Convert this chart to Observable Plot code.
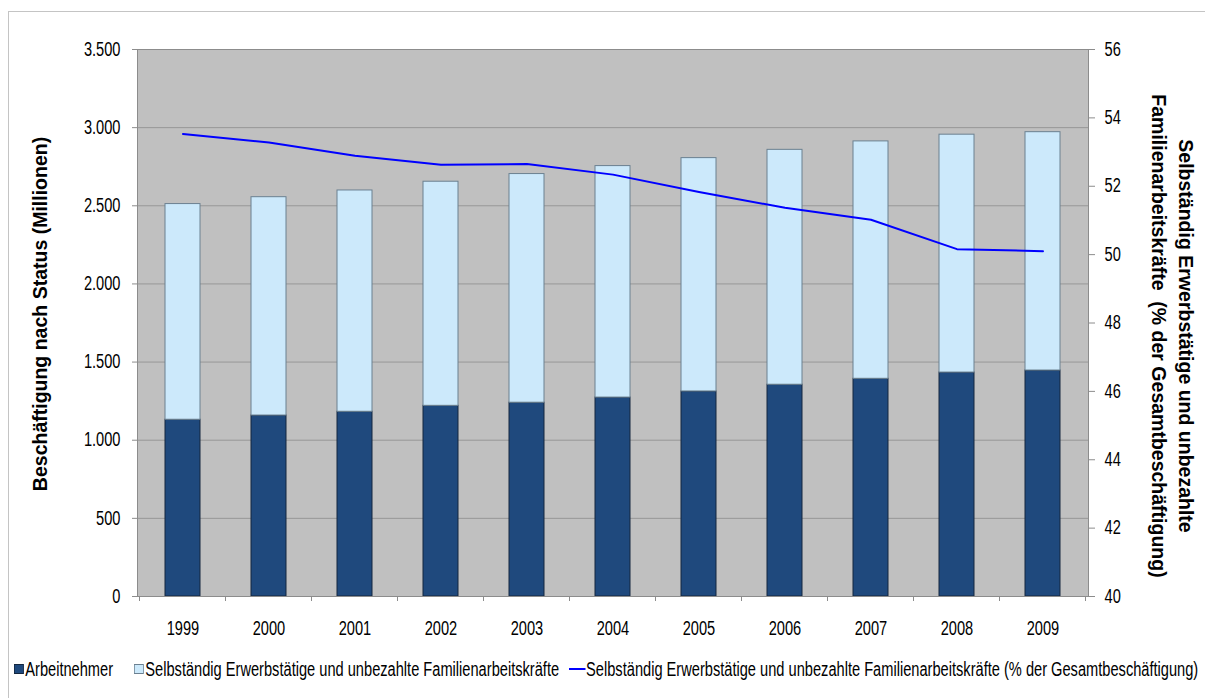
<!DOCTYPE html>
<html><head><meta charset="utf-8">
<script src="https://cdn.jsdelivr.net/npm/d3@7"></script>
<script src="https://cdn.jsdelivr.net/npm/@observablehq/plot@0.6"></script>
<style>
body{margin:0;background:#fff;font-family:"Liberation Sans",Arial,sans-serif;}
#wrap{position:relative;width:1205px;height:698px;overflow:hidden;}
#border{position:absolute;left:8px;top:11px;width:1400px;height:900px;border-left:1px solid #c4c4c4;border-top:1px solid #c4c4c4;}
#chart{position:absolute;left:0;top:0;}
#legend{position:absolute;left:14px;top:657px;white-space:nowrap;font-size:19.5px;line-height:24px;color:#000;transform:scaleX(0.75);transform-origin:0 0;display:flex;align-items:center;}
#legend .sw{display:inline-block;width:13px;height:10px;margin-right:2px;box-sizing:border-box;}
#legend .ln{display:inline-block;width:22px;height:2px;background:#0000ff;margin-right:1px;}
#legend .item{display:flex;align-items:center;}
</style></head><body>
<div id="wrap"><div id="border"></div><div id="chart"></div><div id="legend"></div></div>
<script>
// ---- data ----
const years = ["1999","2000","2001","2002","2003","2004","2005","2006","2007","2008","2009"];
const arbeitnehmer = [1131,1158,1182,1220,1240,1273,1312,1355,1393,1433,1446];
const selbstaendig = [1380,1397,1416,1434,1463,1481,1493,1503,1519,1522,1525];
const anteilProzent = [53.53,53.28,52.89,52.63,52.65,52.34,51.83,51.37,51.02,50.16,50.10];
const leftTicks = [0,500,1000,1500,2000,2500,3000,3500];
const rightTicks = [40,42,44,46,48,50,52,54,56];
const seriesNames = ["Arbeitnehmer","Selbständig Erwerbstätige und unbezahlte Familienarbeitskräfte","Selbständig Erwerbstätige und unbezahlte Familienarbeitskräfte (% der Gesamtbeschäftigung)"];
const leftTitle = "Beschäftigung nach Status (Millionen)";
const rightTitle = "Selbständig Erwerbstätige und unbezahlte\nFamilienarbeitskräfte  (% der Gesamtbeschäftigung)";
const colors = {dark:"#1f497d", light:"#cce9fb", line:"#0000ff"};

// ---- derived ----
const leftMax = 3500, rMin = 40, rMax = 56;
const toLeft = p => (p - rMin) / (rMax - rMin) * leftMax;
const rows = years.map((year,i)=>({year, arb: arbeitnehmer[i], total: arbeitnehmer[i]+selbstaendig[i], pct: anteilProzent[i]}));
const de = d3.formatLocale({decimal:",", thousands:".", grouping:[3], currency:["","€"]}).format(",");
const FONT = '"Liberation Sans", Arial, sans-serif';

const plot = Plot.plot({
  width: 1205, height: 650,
  marginLeft: 137, marginRight: 117, marginTop: 49, marginBottom: 54,
  style: {fontFamily: FONT, fontSize: "19.5px", color: "#000", background: "transparent", overflow: "visible"},
  x: {type: "band", domain: years, paddingInner: 0.595, paddingOuter: 0.2975},
  y: {domain: [0, leftMax]},
  marks: [
    Plot.frame({fill: "#c0c0c0", stroke: "none"}),
    Plot.gridY(leftTicks, {stroke: "#979797", strokeOpacity: 1}),
    Plot.barY(rows, {x: "year", y1: 0, y2: "arb", fill: colors.dark, stroke: "#14263e", strokeWidth: 1}),
    Plot.barY(rows, {x: "year", y1: "arb", y2: "total", fill: colors.light, stroke: "#6b8090", strokeWidth: 1}),
    Plot.line(rows, {x: "year", y: d => toLeft(d.pct), stroke: colors.line, strokeWidth: 2}),
    Plot.frame({stroke: "#8c8c8c"}),
    Plot.axisY(leftTicks, {anchor: "left", tickSize: 5, tickPadding: 12, tickFormat: de, label: null, stroke: "#8c8c8c"}),
    Plot.axisY(rightTicks.map(toLeft), {anchor: "right", tickSize: 6, tickPadding: 10, tickFormat: d => String(Math.round(rMin + d / leftMax * (rMax - rMin))), label: null, stroke: "#8c8c8c"}),
    Plot.axisX({tickSize: 0, tickPadding: 25, label: null}),
    Plot.text([leftTitle], {text: d => d, frameAnchor: "left", dx: -97, dy: -9, rotate: -90, textAnchor: "middle", fontWeight: "bold", fontSize: 19.5, className: "title"}),
    Plot.text([rightTitle], {text: d => d, frameAnchor: "right", dx: 86, dy: 13, rotate: 90, textAnchor: "middle", fontWeight: "bold", fontSize: 19.5, lineHeight: 1.4, className: "title"})
  ]
});
document.getElementById("chart").append(plot);

// category boundary tick marks on the x axis
const xs = plot.scale("x");
const step = xs.apply(years[1]) - xs.apply(years[0]);
const ys = plot.scale("y");
const y0 = ys.apply(0);
const bounds = years.map(y => xs.apply(y) + xs.bandwidth/2 - step/2).concat([xs.apply(years[years.length-1]) + xs.bandwidth/2 + step/2]);
d3.select(plot).append("g").selectAll("line").data(bounds).join("line")
  .attr("x1", d => d).attr("x2", d => d).attr("y1", y0).attr("y2", y0 + 5)
  .attr("stroke", "#8c8c8c");

// condensed text look for tick labels (titles keep normal width)
plot.querySelectorAll("text").forEach(t => {
  if (t.closest(".title")) return;
  const tr = t.getAttribute("transform") || "";
  const x = parseFloat(t.getAttribute("x")) || 0;
  t.setAttribute("transform", `${tr} translate(${x},0) scale(0.75,1) translate(${-x},0)`);
});

// legend
const lg = d3.select("#legend");
const i1 = lg.append("div").attr("class","item").style("margin-right","28px");
i1.append("span").attr("class","sw").style("background", colors.dark).style("border","1px solid #14263e");
i1.append("span").text(seriesNames[0]);
const i2 = lg.append("div").attr("class","item").style("margin-right","13px");
i2.append("span").attr("class","sw").style("background", colors.light).style("border","1px solid #6b8090");
i2.append("span").text(seriesNames[1]);
const i3 = lg.append("div").attr("class","item");
i3.append("span").attr("class","ln");
i3.append("span").text(seriesNames[2]);
</script>
</body></html>
